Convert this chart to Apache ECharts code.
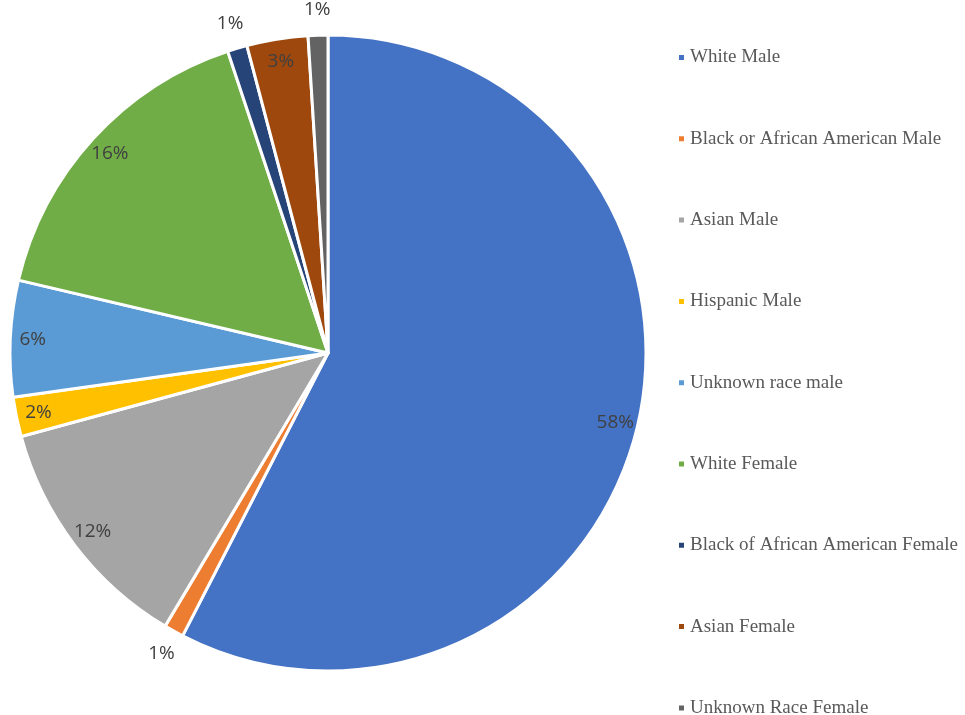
<!DOCTYPE html>
<html>
<head>
<meta charset="utf-8">
<script src="https://cdn.jsdelivr.net/npm/echarts@6/dist/echarts.min.js"></script>
<style>
  html, body { margin: 0; padding: 0; background: #fff; }
  #chart { width: 965px; height: 715px; }
</style>
</head>
<body>
<div id="chart"></div>
<script>
// categories and shares (percent), read clockwise from 12 o'clock
const categories = [
  "White Male",
  "Black or African American Male",
  "Asian Male",
  "Hispanic Male",
  "Unknown race male",
  "White Female",
  "Black of African American Female",
  "Asian Female",
  "Unknown Race Female"
];
const shares = [57.5, 1.0, 12.2, 2.0, 5.9, 16.2, 1.0, 3.1, 1.0];
const colors = ["#4472c4", "#ed7d31", "#a5a5a5", "#ffc000", "#5b9bd5",
                "#70ad47", "#264478", "#9e480e", "#636363"];

const pieData = categories.map((name, i) => ({ name: name, value: shares[i] }));

// small slices get their label outside the pie
const isSmall = (v) => v < 1.5;

const cx = 328, cy = 353, R = 318;
const labelFont = {
  fontFamily: "Open Sans",
  fontSize: 19,
  color: "#404040"
};
const pctFmt = (p) => Math.round(p.percent) + "%";

// transparent rings only used to place the labels
const labelRing = (r0, r1, showFn) => ({
  type: "pie",
  center: [cx, cy],
  radius: [r0, r1],
  startAngle: 90,
  clockwise: true,
  silent: true,
  legendHoverLink: false,
  itemStyle: { color: "rgba(0,0,0,0)", borderWidth: 0 },
  labelLine: { show: false },
  emphasis: { disabled: true },
  data: pieData.map((d) => ({
    name: d.name,
    value: d.value,
    label: Object.assign({ show: showFn(d.value), position: "inside", formatter: pctFmt }, labelFont)
  }))
});

const chart = echarts.init(document.getElementById("chart"));
chart.setOption({
  animation: false,
  color: colors,
  legend: {
    orient: "vertical",
    left: 677,
    top: 48,
    height: 700,
    padding: 0,
    icon: "rect",
    itemWidth: 7,
    itemHeight: 7,
    itemGap: 62.3,
    data: categories,
    textStyle: {
      fontFamily: "Liberation Serif",
      fontSize: 19,
      color: "#595959"
    },
    selectedMode: false
  },
  series: [
    {
      type: "pie",
      center: [cx, cy],
      radius: [0, R],
      startAngle: 90,
      clockwise: true,
      label: { show: false },
      labelLine: { show: false },
      itemStyle: { borderColor: "#ffffff", borderWidth: 3 },
      emphasis: { disabled: true },
      data: pieData
    },
    labelRing(R * 0.84, R, (v) => !isSmall(v)),
    labelRing(R, R * 1.14, (v) => isSmall(v))
  ]
});
</script>
</body>
</html>
